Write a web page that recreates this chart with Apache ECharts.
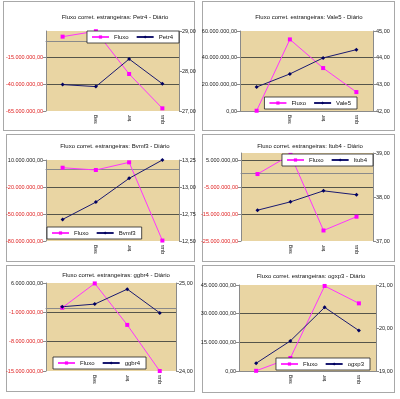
<!DOCTYPE html>
<html>
<head>
<meta charset="utf-8">
<script src="https://cdn.jsdelivr.net/npm/echarts@6/dist/echarts.min.js"></script>
<style>
  html, body { margin: 0; padding: 0; background: #fff; }
  #wrap { position: relative; width: 400px; height: 399px; }
  .box { position: absolute; border: 1px solid #a8a8a8; box-sizing: border-box; }
  #chart { position: absolute; left: 0; top: 0; width: 400px; height: 399px; }
</style>
</head>
<body>
<div id="wrap">
  <div class="box" style="left:3px;top:1px;width:192px;height:130px"></div>
  <div class="box" style="left:202px;top:1px;width:193px;height:130px"></div>
  <div class="box" style="left:6px;top:134px;width:189px;height:128px"></div>
  <div class="box" style="left:202px;top:134px;width:193px;height:128px"></div>
  <div class="box" style="left:6px;top:265px;width:189px;height:127px"></div>
  <div class="box" style="left:202px;top:265px;width:193px;height:128px"></div>
  <div id="chart"></div>
</div>
<script>
// dias da semana (o primeiro fica sem rótulo no original)
const days = ['', 'seg', 'ter', 'qua']

const tickers = ['Petr4', 'Vale5', 'Bvmf3', 'Itub4', 'ggbr4', 'ogxp3']

// fluxo corrigido dos estrangeiros (R$)
const fluxoPetr4 = [4700000, 9800000, -30300000, -62500000]
const fluxoVale5 = [200000, 53700000, 32200000, 14200000]
const fluxoBvmf3 = [1400000, -1100000, 7400000, -79500000]
const fluxoItub4 = [-200000, 6900000, -21100000, -16000000]
const fluxoGgbr4 = [100000, 5900000, -4000000, -15000000]
const fluxoOgxp3 = [100000, 6800000, 44500000, 35400000]

// preço de fechamento
const precoPetr4 = [27.66, 27.61, 28.30, 27.68]
const precoVale5 = [42.90, 43.39, 43.99, 44.30]
const precoBvmf3 = [12.70, 12.86, 13.08, 13.25]
const precoItub4 = [37.70, 37.89, 38.14, 38.05]
const precoGgbr4 = [24.73, 24.76, 24.93, 24.66]
const precoOgxp3 = [19.18, 19.70, 20.48, 19.94]

// escalas dos eixos: [min, max, intervalo]
const fluxoAxis = [
  [-65000000, 10000000, 25000000],
  [0, 60000000, 20000000],
  [-80000000, 10000000, 30000000],
  [-25000000, 7600000, 10000000],
  [-15000000, 6000000, 7000000],
  [0, 45000000, 15000000]
]
const precoAxis = [
  [27, 29, 1],
  [42, 45, 1],
  [12.5, 13.25, 0.25],
  [37, 39, 1],
  [24, 25, 1],
  [19, 21, 1]
]
const hideTopLabel = [true, false, false, true, false, false]

const fluxos = [fluxoPetr4, fluxoVale5, fluxoBvmf3, fluxoItub4, fluxoGgbr4, fluxoOgxp3]
const precos = [precoPetr4, precoVale5, precoBvmf3, precoItub4, precoGgbr4, precoOgxp3]

// layout de cada painel
const grids = [
  { left: 46, top: 31, width: 133, height: 80 },
  { left: 240, top: 31, width: 133, height: 80 },
  { left: 46, top: 160, width: 133, height: 81 },
  { left: 241, top: 153, width: 132, height: 88 },
  { left: 46, top: 283, width: 130, height: 88 },
  { left: 239, top: 285, width: 137, height: 86 }
]
const titlePos = [[110, 9], [304, 9], [110, 138], [305, 138], [111, 267], [306, 268]]
const legendPos = [
  { right: 221, top: 31 },
  { right: 43, top: 97 },
  { left: 47, top: 227 },
  { right: 27, top: 154 },
  { left: 53, top: 357 },
  { right: 30, top: 358 }
]

const FONT = 'Liberation Sans, Arial, sans-serif'

const br = (v) => {
  const s = Math.abs(v).toFixed(2).split('.')
  const i = s[0].replace(/\B(?=(\d{3})+(?!\d))/g, '.')
  return (v < 0 ? '-' : '') + i + ',' + s[1]
}

const chart = echarts.init(document.getElementById('chart'), null, { renderer: 'canvas' })

const option = {
  animation: false,
  backgroundColor: 'transparent',
  textStyle: { fontFamily: FONT },
  title: [],
  legend: [],
  grid: [],
  xAxis: [],
  yAxis: [],
  series: []
}

tickers.forEach((t, k) => {
  option.title.push({
    text: 'Fluxo corret. estrangeiras: ' + t + ' - Diário',
    left: titlePos[k][0],
    top: titlePos[k][1],
    textAlign: 'center',
    textStyle: { fontSize: 6, fontWeight: 'normal', color: '#111', fontFamily: FONT }
  })
  option.legend.push({
    data: ['Fluxo', t],
    ...legendPos[k],
    orient: 'horizontal',
    backgroundColor: '#fff',
    borderColor: '#222',
    borderWidth: 0.8,
    borderRadius: 0,
    padding: [3, 6, 3, 4],
    itemWidth: 17,
    itemHeight: 4,
    itemGap: 7,
    textStyle: { fontSize: 6, color: '#111', fontFamily: FONT }
  })
  option.grid.push({
    ...grids[k],
    show: true,
    backgroundColor: '#e9d5a3',
    borderWidth: 0
  })
  option.xAxis.push({
    type: 'category',
    gridIndex: k,
    data: days,
    boundaryGap: true,
    axisLine: { lineStyle: { color: '#8a8a8a', width: 1 } },
    axisTick: { show: false },
    axisLabel: { rotate: 90, fontSize: 5.5, color: '#222', margin: 4, fontFamily: FONT },
    splitLine: { show: false }
  })
  const fa = fluxoAxis[k]
  const pa = precoAxis[k]
  option.yAxis.push({
    type: 'value',
    gridIndex: k,
    position: 'left',
    min: fa[0],
    max: fa[1],
    interval: fa[2],
    axisLine: { show: true, lineStyle: { color: '#8a8a8a' } },
    axisTick: { show: true, length: 3, lineStyle: { color: '#8a8a8a' } },
    axisLabel: {
      fontSize: 5.5,
      margin: 3,
      fontFamily: FONT,
      showMaxLabel: !hideTopLabel[k],
      formatter: br,
      color: (v) => (Number(v) < 0 ? '#e02020' : '#222')
    },
    splitLine: { show: true, showMinLine: false, showMaxLine: false, lineStyle: { color: '#55554a', width: 1 } }
  })
  option.yAxis.push({
    type: 'value',
    gridIndex: k,
    position: 'right',
    min: pa[0],
    max: pa[1],
    interval: pa[2],
    axisLine: { show: true, lineStyle: { color: '#8a8a8a' } },
    axisTick: { show: true, length: 3, lineStyle: { color: '#8a8a8a' } },
    axisLabel: { fontSize: 5.5, margin: 3, color: '#222', fontFamily: FONT, formatter: (v) => v.toFixed(2).replace('.', ',') },
    splitLine: { show: false }
  })
  option.series.push({
    name: 'Fluxo',
    type: 'line',
    xAxisIndex: k,
    yAxisIndex: 2 * k,
    data: fluxos[k],
    symbol: 'rect',
    symbolSize: 4,
    lineStyle: { color: '#ff33ff', width: 1 },
    itemStyle: { color: '#ff00ff' }
  })
  option.series.push({
    name: t,
    type: 'line',
    xAxisIndex: k,
    yAxisIndex: 2 * k + 1,
    data: precos[k],
    symbol: 'diamond',
    symbolSize: 4,
    lineStyle: { color: '#1a1a70', width: 1 },
    itemStyle: { color: '#000060' }
  })
})

chart.setOption(option)
</script>
</body>
</html>
